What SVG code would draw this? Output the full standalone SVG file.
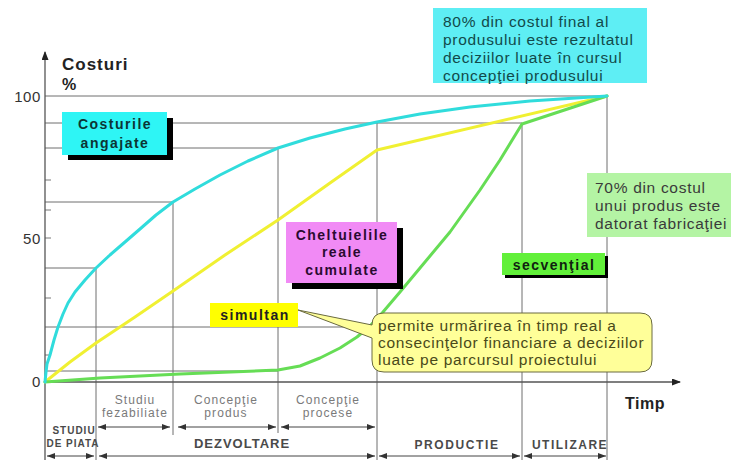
<svg xmlns="http://www.w3.org/2000/svg" width="732" height="466" viewBox="0 0 732 466">
  <defs>
    <style>
      .grid{stroke:#6e6e6e;stroke-width:1;fill:none}
      .axis{stroke:#555;stroke-width:1.3;fill:none}
      .tick{stroke:#777;stroke-width:1}
      .curve{fill:none;stroke-width:3;stroke-linejoin:round;stroke-linecap:round}
      .span{stroke:#444;stroke-width:1;fill:none;marker-start:url(#ah);marker-end:url(#ah)}
      text{font-family:"Liberation Sans",Arial,sans-serif}
      .tag{font-weight:bold;font-size:14px;letter-spacing:1.5px;text-anchor:middle}
      .note{font-size:15.5px;letter-spacing:0.7px}
      .phase{font-size:12px;fill:#7a7a7a;letter-spacing:1.1px;text-anchor:middle}
      .stage{font-weight:bold;fill:#4a4a4a;text-anchor:middle}
      .ylab{font-size:15px;fill:#333;text-anchor:end;letter-spacing:0.6px}
    </style>
    <marker id="ah" markerWidth="8" markerHeight="6" refX="8" refY="3" orient="auto-start-reverse" markerUnits="userSpaceOnUse">
      <path d="M0,0 L8,3 L0,6 z" fill="#333"/>
    </marker>
    <marker id="axh" markerWidth="9" markerHeight="7" refX="8" refY="3.5" orient="auto" markerUnits="userSpaceOnUse">
      <path d="M0,0 L9,3.5 L0,7 z" fill="#222"/>
    </marker>
  </defs>

  <rect width="732" height="466" fill="#fff"/>

  <!-- reference lines of the chart -->
  <g id="grid">
    <path class="grid" d="M45,96 H607 M45,123 H522 M45,148 H278 M45,202 H173 M45,268 H96 M45,327 H377 M45,371 H278"/>
    <path class="grid" d="M96,268 V460 M173,202 V435 M278,148 V433 M377,123 V460 M522,123 V460 M607,96 V460"/>
    <path class="tick" d="M45,180 H51 M45,210 H51 M45,238 H51 M45,298 H51 M45,355 H51"/>
  </g>

  <!-- axes -->
  <g id="axes">
    <path class="axis" d="M45,460 V52" marker-end="url(#axh)"/>
    <path class="axis" d="M45,382 H680" marker-end="url(#axh)"/>
    <text x="62" y="70" font-size="17" font-weight="bold" letter-spacing="1" fill="#222">Costuri</text>
    <text x="62" y="90" font-size="16" font-weight="bold" fill="#222">%</text>
    <text class="ylab" x="41" y="102">100</text>
    <text class="ylab" x="41" y="244">50</text>
    <text class="ylab" x="41" y="387">0</text>
    <text x="625" y="409" font-size="16" font-weight="bold" letter-spacing="0.5" fill="#222">Timp</text>
  </g>

  <!-- cost curves -->
  <g id="curves">
    <polyline class="curve" stroke="#f0f032" points="45,382 70,362 96,343 135,317 173,291 225,255 278,220 330,183 377,150 607,96"/>
    <polyline class="curve" stroke="#66dd55" points="45,382 100,378 180,374 278,370 300,366 320,358 340,348 357,337 370,326 383,312 400,292 420,268 450,232 480,190 500,160 522,124 607,96"/>
    <polyline class="curve" stroke="#30dcdc" points="45,382 46,372 47,364 50,355 54,340 58,327 63,314 68,303 75,292 85,280 96,268 110,255 125,242 140,229 156,215 173,202 195,189 220,175 248,161 278,148 310,138 345,129 377,122 420,114 470,107 530,101 607,96"/>
  </g>

  <!-- phase spans along the time axis -->
  <g id="connectors">
    <path class="span" d="M98,427 H170"/>
    <path class="span" d="M178,427 H276"/>
    <path class="span" d="M281,427 H375"/>
    <path class="span" d="M47,456 H94"/>
    <path class="span" d="M99,456 H375"/>
    <path class="span" d="M379,456 H520"/>
    <path class="span" d="M524,456 H606"/>
  </g>

  <g id="phases">
    <text class="phase" x="135" y="404">Studiu</text>
    <text class="phase" x="135" y="417">fezabiliate</text>
    <text class="phase" x="226" y="404">Concepţie</text>
    <text class="phase" x="226" y="417">produs</text>
    <text class="phase" x="328" y="404">Concepţie</text>
    <text class="phase" x="328" y="417">procese</text>
    <text class="stage" x="74" y="434" font-size="10" letter-spacing="1">STUDIU</text>
    <text class="stage" x="73" y="447" font-size="10" letter-spacing="1">DE PIATA</text>
    <text class="stage" x="242" y="448" font-size="13" letter-spacing="1">DEZVOLTARE</text>
    <text class="stage" x="457" y="449" font-size="12" letter-spacing="1.6" fill="#666">PRODUCTIE</text>
    <text class="stage" x="570" y="449" font-size="12" letter-spacing="1.5" fill="#666">UTILIZARE</text>
  </g>

  <g id="costurile-angajate">
    <rect x="68" y="118" width="105" height="42" fill="#000"/>
    <rect x="62" y="112" width="105" height="43" fill="#2ef5f5"/>
    <text class="tag" x="115" y="129" fill="#0c3434">Costurile</text>
    <text class="tag" x="115" y="148" fill="#0c3434">angajate</text>
  </g>

  <g id="cheltuielile-reale">
    <rect x="292" y="228" width="111" height="61" fill="#000"/>
    <rect x="286" y="222" width="111" height="61" fill="#f18af5"/>
    <text class="tag" x="342" y="240" fill="#2a0a30">Cheltuielile</text>
    <text class="tag" x="342" y="257" fill="#2a0a30">reale</text>
    <text class="tag" x="342" y="275" fill="#2a0a30">cumulate</text>
  </g>

  <g id="secvential">
    <rect x="505" y="256" width="103" height="22" fill="#000"/>
    <rect x="502" y="253" width="103" height="22" fill="#62f03a"/>
    <text class="tag" x="554" y="270" fill="#102010">secvenţial</text>
  </g>

  <g id="simultan">
    <rect x="210" y="303" width="88" height="24" fill="#ffff00"/>
    <text class="tag" x="255" y="320" fill="#222">simultan</text>
  </g>

  <g id="nota-80">
    <rect x="433" y="8" width="214" height="75" fill="#5eeef4"/>
    <text class="note" x="443" y="27" fill="#124a4a">80% din costul final al</text>
    <text class="note" x="443" y="45" fill="#124a4a">produsului este rezultatul</text>
    <text class="note" x="443" y="63" fill="#124a4a">deciziilor luate în cursul</text>
    <text class="note" x="443" y="81" fill="#124a4a">concepţiei produsului</text>
  </g>

  <g id="nota-70">
    <rect x="587" y="173" width="144" height="64" fill="#b4f4a4"/>
    <text class="note" x="595" y="193" fill="#3a3a3a">70% din costul</text>
    <text class="note" x="595" y="211" fill="#3a3a3a">unui produs este</text>
    <text class="note" x="595" y="229" fill="#3a3a3a">datorat fabricaţiei</text>
  </g>

  <g id="nota-simultan">
    <path d="M384,313 H640 Q652,313 652,325 V360 Q652,372 640,372 H384 Q372,372 372,360 V338 L298,310 L372,325 Q372,313 384,313 Z" fill="#ffff99" stroke="#6a6a40" stroke-width="1"/>
    <text class="note" x="378" y="331" fill="#4a4a1a">permite urmărirea în timp real a</text>
    <text class="note" x="378" y="348" fill="#4a4a1a">consecinţelor financiare a deciziilor</text>
    <text class="note" x="378" y="365" fill="#4a4a1a">luate pe parcursul proiectului</text>
  </g>
</svg>
